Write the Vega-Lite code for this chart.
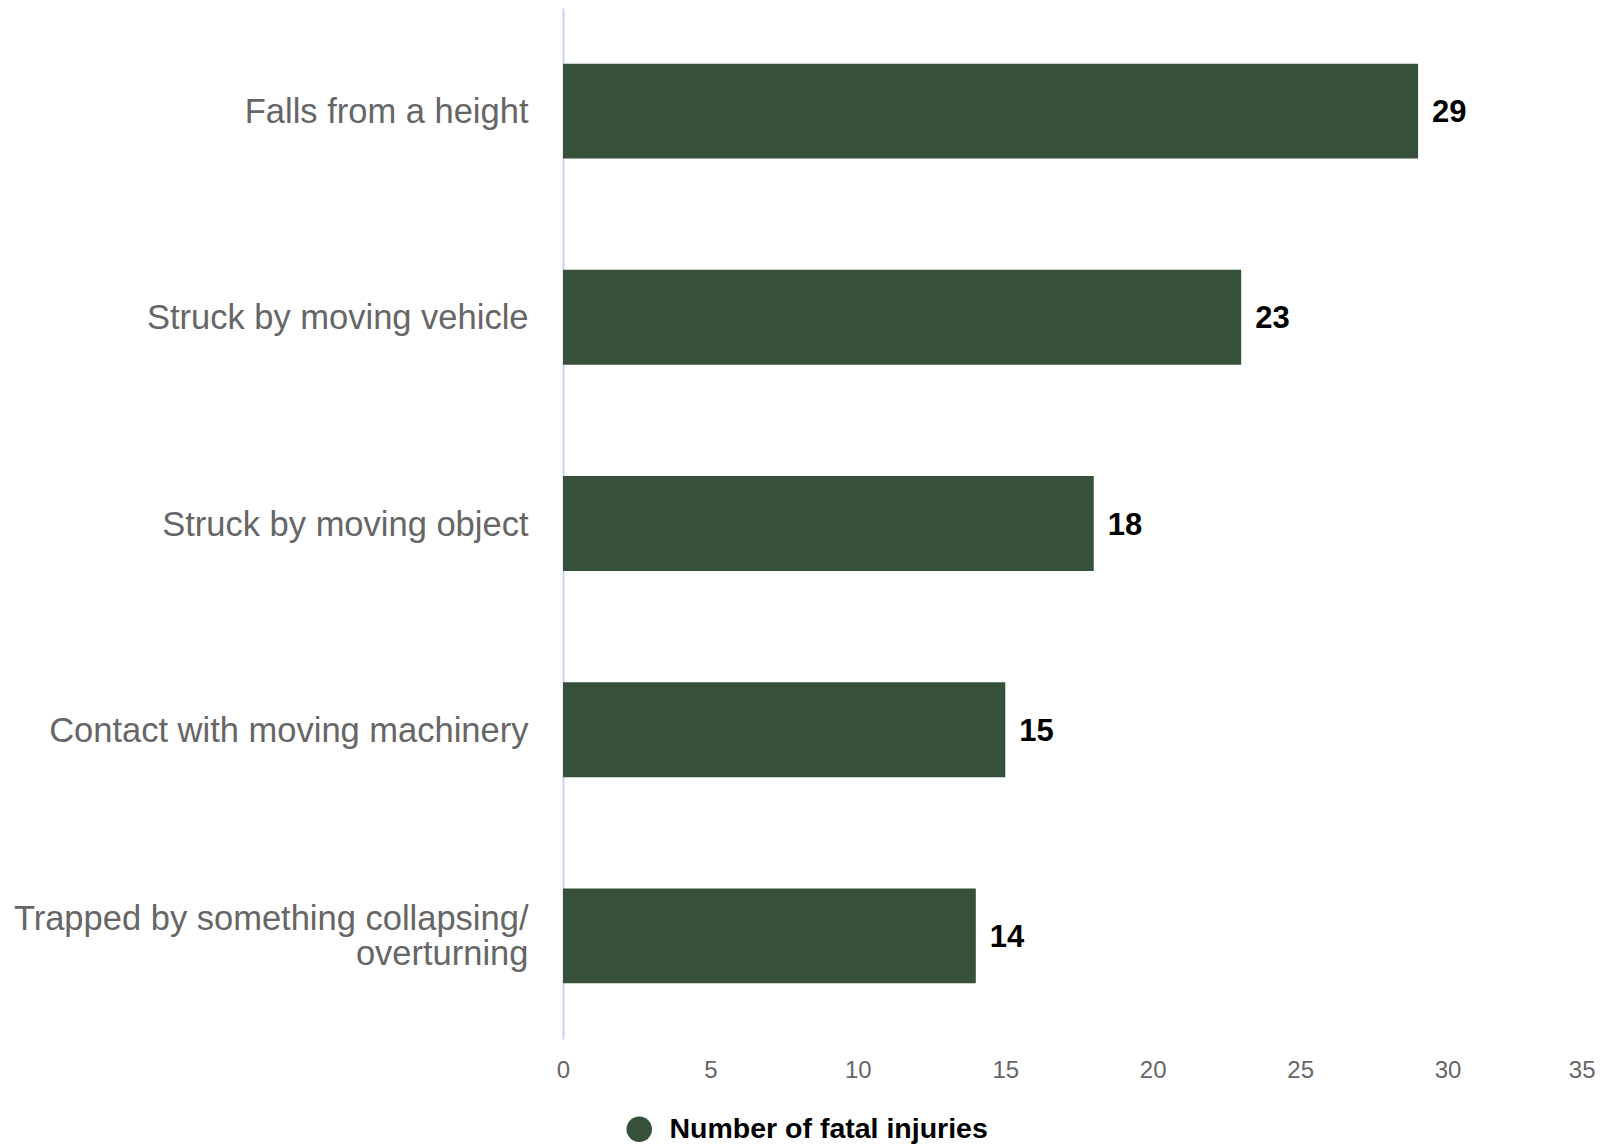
{
  "$schema": "https://vega.github.io/schema/vega-lite/v6.json",
  "autosize": {"type": "none"},
  "padding": {"left": 563, "top": 8, "right": 10, "bottom": 106},
  "width": 1032,
  "height": 1031,
  "background": "white",
  "config": {
    "font": "Liberation Sans",
    "view": {"stroke": null}
  },
  "data": {
    "values": [
      {"cause": "Falls from a height", "injuries": 29},
      {"cause": "Struck by moving vehicle", "injuries": 23},
      {"cause": "Struck by moving object", "injuries": 18},
      {"cause": "Contact with moving machinery", "injuries": 15},
      {"cause": "Trapped by something collapsing/ overturning", "injuries": 14}
    ]
  },
  "encoding": {
    "y": {
      "field": "cause",
      "type": "nominal",
      "sort": null,
      "scale": {"paddingInner": 0.54, "paddingOuter": 0.27},
      "axis": {
        "title": null,
        "ticks": false,
        "domainColor": "#c9d4ee",
        "domainWidth": 2,
        "labelPadding": 35,
        "labelFontSize": 34.5,
        "labelColor": "#666666",
        "labelLimit": 600,
        "labelLineHeight": 35,
        "labelOffset": {"expr": "datum.value == 'Trapped by something collapsing/ overturning' ? -16 : 2"},
        "labelExpr": "datum.label == 'Trapped by something collapsing/ overturning' ? ['Trapped by something collapsing/', 'overturning'] : datum.label"
      }
    },
    "x": {
      "field": "injuries",
      "type": "quantitative",
      "scale": {"domain": [0, 35]},
      "axis": {
        "title": null,
        "grid": false,
        "domain": false,
        "ticks": false,
        "values": [0, 5, 10, 15, 20, 25, 30, 35],
        "labelFontSize": 24,
        "labelColor": "#666666",
        "labelPadding": 19,
        "labelAlign": {"expr": "datum.value == 35 ? 'right' : 'center'"},
        "labelBound": false
      }
    }
  },
  "layer": [
    {
      "mark": {"type": "bar"},
      "encoding": {
        "color": {
          "datum": "Number of fatal injuries",
          "type": "nominal",
          "scale": {"range": ["#375039"]},
          "legend": {
            "title": null,
            "orient": "none",
            "legendX": 62,
            "legendY": 1107,
            "symbolType": "circle",
            "symbolSize": 650,
            "labelFontSize": 28.5,
            "labelFontWeight": "bold",
            "labelColor": "#000000",
            "labelOffset": 16,
            "labelLimit": 600
          }
        }
      }
    },
    {
      "mark": {"type": "text", "align": "left", "dx": 14, "dy": 2, "fontSize": 31, "fontWeight": "bold", "color": "#000000"},
      "encoding": {
        "text": {"field": "injuries", "type": "quantitative"}
      }
    }
  ]
}
